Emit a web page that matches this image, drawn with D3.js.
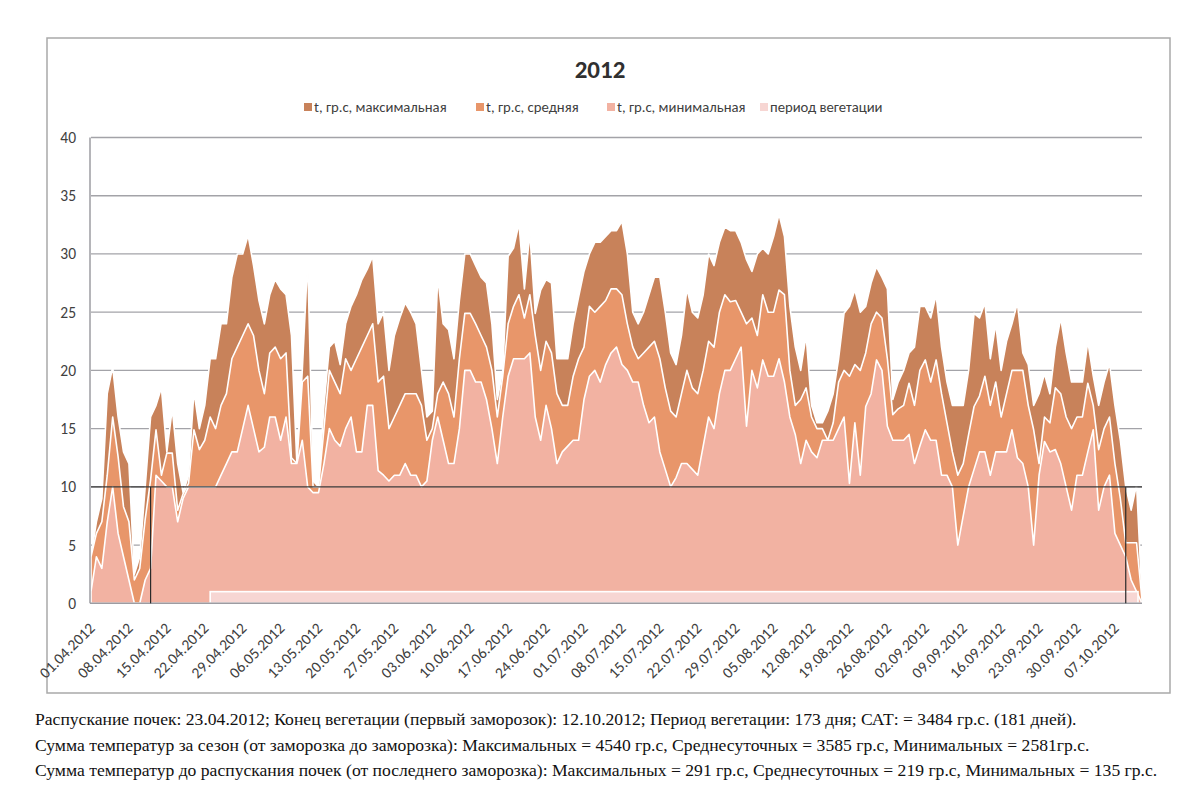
<!DOCTYPE html>
<html><head><meta charset="utf-8">
<script src="https://cdn.jsdelivr.net/npm/d3@7/dist/d3.min.js"></script>
<style>
body{margin:0;background:#fff;}
svg{display:block;}
.ax text{font-family:Carlito,Calibri,"Liberation Sans Narrow","Noto Sans",sans-serif;fill:#404040;}
</style></head>
<body><svg id="c" width="1200" height="800"></svg>
<script>
const startDate = "01.04.2012";
const endDate = "12.10.2012";
const tickLabels = ["01.04.2012","08.04.2012","15.04.2012","22.04.2012","29.04.2012","06.05.2012","13.05.2012","20.05.2012","27.05.2012","03.06.2012","10.06.2012","17.06.2012","24.06.2012","01.07.2012","08.07.2012","15.07.2012","22.07.2012","29.07.2012","05.08.2012","12.08.2012","19.08.2012","26.08.2012","02.09.2012","09.09.2012","16.09.2012","23.09.2012","30.09.2012","07.10.2012"];
const yTicks = [0,5,10,15,20,25,30,35,40];
const tMax = [4,7,9,18,20.3,16,13,12,2.5,4,
 10,16,17,18.5,13,16.7,12,9.5,11,18.2,
 15,17,21,21,24,24,28,30,30,31.6,
 29,26,24,26.5,27.8,27,26.5,23,12,20,
 29.5,10.5,10,17,22,22.5,20.5,24,25.5,26.5,
 27.8,28.7,29.8,24,25,20,23,24.5,25.8,25,
 24,20,16,16.5,28,24,23.5,21,26,30,
 30,29,28,27.5,24,17.5,20,29.8,30.5,32.6,
 27,31.8,24.9,26.9,27.8,27.5,21,21,21,24,
 26.3,28.5,30,31,31,31.5,32,32,32.8,30,
 25,24,25,26.5,28,28,25,21.5,20.5,23,
 27,25,24.5,26.5,30,29,31,32.3,32,32,
 31,29.5,28.5,30,30.5,30,31.5,33.4,31.5,25.5,
 22,20,23,17,15.5,15.5,16.5,18,21,24.9,
 25.5,26.9,25,25.5,27.5,28.9,28,27,17.5,19,
 20,21.5,22,25.5,25.5,24.5,26.5,22,19,17,
 17,17,20,24.9,24.5,25.8,21,24,20,22.5,
 24,25.8,21.5,20.5,17,18,19.7,18,22,24.5,
 21.5,19,19,19,22.5,19.5,17,19,20.6,17,
 14,10,8,10.2,0.5];
const tMean = [4,6,7,11,16,12.6,8.3,7,2,3,
 7.2,10.6,14.9,11,12.9,12.9,8,9.4,10.3,14.9,
 13.2,14,16,15,17,18,21,22,23,24,
 23,20,18,21.5,22,21,21.5,12.5,12,19,
 19.5,10,10,15,20,19,18,21,20,21,
 22,23,24,19,19.5,15,16,17,18,18,
 18,17,14,15,18,19,18,16,21,24.9,
 24.9,24,23,22,20,16,19.5,24,25.5,26.5,
 24.5,26.5,23,20,22.5,21.5,18,17,17,19.5,
 21,22,25.5,25,25.5,26,27,27,26.5,24,
 22,21,21.5,22,22.5,21,18.5,16.5,16,18,
 20,18.5,18,20,22.5,22,25,26.5,25.9,26,
 25,24,24.5,23,26.5,25,25,26.9,26.5,20,
 17,17.5,18.5,16,15,15,14,15.5,19,20,
 19.5,20.5,20,21.5,24,25,24.5,21,16.2,16.7,
 17,18.9,17,20,20.9,19,20.9,18,15.5,13,
 11,12,14.5,16.9,17.8,19.5,17,19,16,18,
 20,20,20,17,14.9,12,16,15.5,18.5,18,
 16,15,16,16,18.9,17,13.2,15,16,12,
 9,5.2,5.2,5.2,0.3];
const tMin = [1,4,3,7,10,6,4,2,0,0,
 2,3,11,10.5,10,10,7,9,10,10,
 10,10,10,10,11,12,13,13,15,17,
 15,13,13.4,16,16,14,16,12,12,14,
 10,9.5,9.5,12,15,14,13.5,15,16,13,
 13,17,17,11.4,11,10.5,11,11,12,11,
 11,10,10.5,14,16,14,12,12,15,20,
 20,19,19,17.5,15,12,16,19.5,21,21,
 21,21.5,16,14,17,15,12,13,13.5,14,
 14,17.5,19.5,20,19,20.5,21.5,22,20.5,20,
 19,19,17,15.5,16,13,11.5,10,10.8,12,
 12,11.5,11,13.5,16,15,18,20,20,21,
 22,15.2,20,18.5,20.9,19.5,19.5,21,19,16,
 14.5,12,14,13,12.5,14,14,14,15,16,
 10.3,15.5,11,16.9,18,20.9,20,15.2,14,14,
 14,14.5,12,13.5,14.9,14,14,11,11,10,
 5,7.5,10,11.5,13,13,11,13,13,13,
 14.9,12.5,12,10,5,11,13.9,13,13.2,12,
 10,8,11,11,13,14.9,8,10,11,6,
 5,4,2,1,0];
const vegStart = "23.04.2012", vegEnd = "12.10.2012", vegLevel = 1;
const markerDates = ["12.04.2012","09.10.2012"];
const threshold = 10;
const seriesNames = ["t, гр.c, максимальная","t, гр.c, средняя","t, гр.c, минимальная","период вегетации"];
const seriesColors = ["#c8825a","#e8966a","#f2b2a2","#f7d6d3"];
const title = "2012";
const notes = [
 "Распускание почек: 23.04.2012; Конец вегетации (первый заморозок): 12.10.2012; Период вегетации: 173 дня;  САТ: = 3484 гр.с. (181 дней).",
 "Сумма температур за сезон (от заморозка до заморозка): Максимальных = 4540 гр.с, Среднесуточных  = 3585 гр.с, Минимальных = 2581гр.с.",
 "Сумма температур до распускания почек (от последнего заморозка): Максимальных = 291 гр.с, Среднесуточных = 219 гр.с, Минимальных = 135 гр.с."
];

const parse = d3.timeParse("%d.%m.%Y");
const days = d3.timeDay.range(parse(startDate), d3.timeDay.offset(parse(endDate),1));
const svg = d3.select("#c");
const L=91, R=1142, T=137.5, B=603.3;
const x = d3.scaleTime().domain([parse(startDate), parse(endDate)]).range([L,R]);
const y = d3.scaleLinear().domain([0,40]).range([B,T]);

// outer frame
svg.append("rect").attr("x",47).attr("y",38).attr("width",1123).attr("height",655)
  .attr("fill","#fff").attr("stroke","#a9a9a9").attr("stroke-width",1.5);

// grid
svg.append("g").selectAll("line").data(yTicks.filter(v=>v>0)).join("line")
  .attr("x1",L).attr("x2",R).attr("y1",d=>y(d)).attr("y2",d=>y(d))
  .attr("stroke","#a3a3a8").attr("stroke-width",1.3);

function areaOf(vals){
  return d3.area().x((d,i)=>x(days[i])).y0(y(0)).y1(d=>y(d))(vals);
}
[tMax,tMean,tMin].forEach((s,k)=>{
  svg.append("path").attr("d",areaOf(s)).attr("fill",seriesColors[k])
    .attr("stroke","#fff").attr("stroke-width",1.6).attr("stroke-linejoin","round");
});
// vegetation band
svg.append("rect").attr("x",x(parse(vegStart))).attr("y",y(vegLevel))
  .attr("width",x(parse(vegEnd))-x(parse(vegStart))-4).attr("height",y(0)-y(vegLevel))
  .attr("fill",seriesColors[3]).attr("stroke","#fff").attr("stroke-width",1.6);

// axes lines
svg.append("line").attr("x1",L-1).attr("x2",L-1).attr("y1",T).attr("y2",B).attr("stroke","#9c9ca2").attr("stroke-width",1.5);
svg.append("line").attr("x1",L-1).attr("x2",R).attr("y1",B).attr("y2",B).attr("stroke","#9c9ca2").attr("stroke-width",1.5);

// threshold line
svg.append("line").attr("x1",L).attr("x2",R).attr("y1",y(threshold)).attr("y2",y(threshold))
  .attr("stroke","#3a3a3a").attr("stroke-width",1.2);
svg.append("g").selectAll("line").data(markerDates).join("line")
  .attr("x1",d=>x(parse(d))).attr("x2",d=>x(parse(d))).attr("y1",y(threshold)).attr("y2",y(0))
  .attr("stroke","#2a2a2a").attr("stroke-width",1.2);

// y axis labels
const ya = svg.append("g").attr("class","ax");
ya.selectAll("text").data(yTicks).join("text")
  .attr("x",76).attr("y",d=>y(d)).attr("dy","0.35em").attr("text-anchor","end")
  .attr("font-size",15.5).text(d=>d);

// x axis labels
const xa = svg.append("g").attr("class","ax");
xa.selectAll("text").data(tickLabels).join("text")
  .attr("transform",d=>`translate(${x(parse(d))+1},${B+22}) rotate(-45)`)
  .attr("text-anchor","end").attr("dy","0.35em").attr("font-size",15.5).text(d=>d);

// title
svg.append("text").attr("class","ax").attr("x",600).attr("y",78).attr("text-anchor","middle")
  .attr("font-family","Carlito,Calibri,'Liberation Sans Narrow','Noto Sans',sans-serif")
  .attr("font-weight","bold").attr("font-size",25).attr("fill","#303030").text(title);

// legend
const legX = [304,476,607,760];
const lg = svg.append("g").attr("class","ax");
seriesNames.forEach((n,i)=>{
  lg.append("rect").attr("x",legX[i]).attr("y",103).attr("width",8).attr("height",8).attr("fill",seriesColors[i]);
  lg.append("text").attr("x",legX[i]+10).attr("y",107).attr("dy","0.35em").attr("font-size",14.7).text(n);
});

// notes
svg.append("g").selectAll("text").data(notes).join("text")
  .attr("x",35).attr("y",(d,i)=>725+i*25.5)
  .attr("font-family","'Liberation Serif','Times New Roman',serif").attr("font-size",17.6)
  .attr("fill","#111").text(d=>d);
</script></body></html>
